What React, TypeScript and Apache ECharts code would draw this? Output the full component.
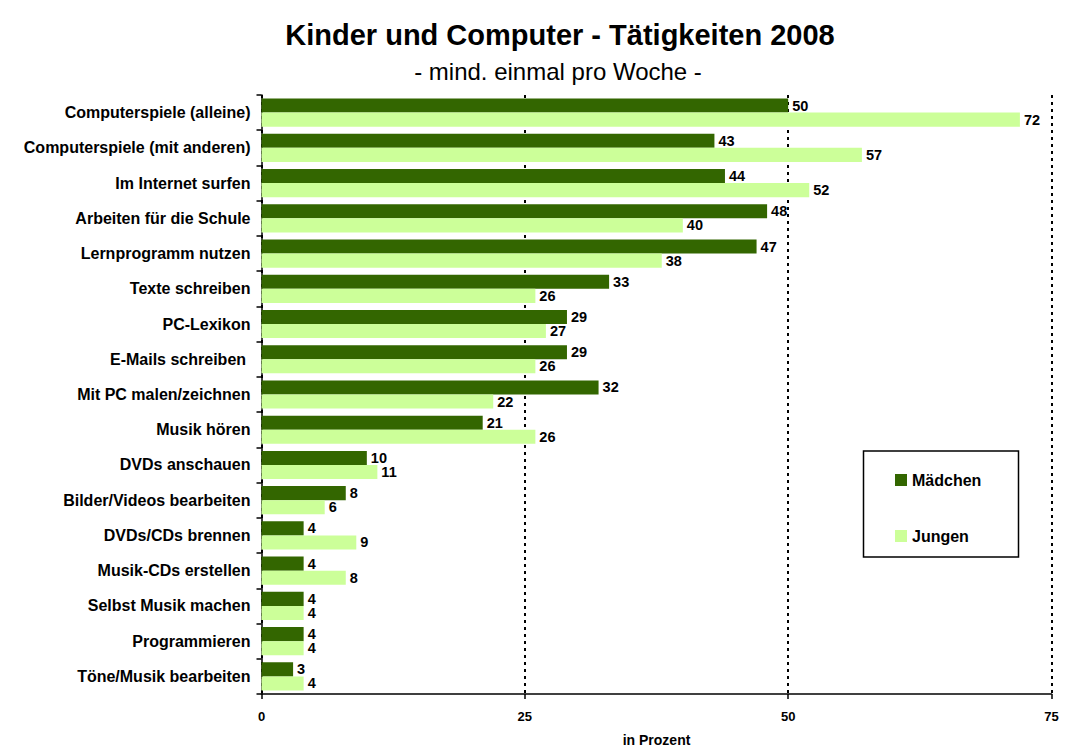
import React, { useEffect, useRef } from "react";
import * as echarts from "echarts";

const categories = [
  "Computerspiele (alleine)",
  "Computerspiele (mit anderen)",
  "Im Internet surfen",
  "Arbeiten für die Schule",
  "Lernprogramm nutzen",
  "Texte schreiben",
  "PC-Lexikon",
  "E-Mails schreiben ",
  "Mit PC malen/zeichnen",
  "Musik hören",
  "DVDs anschauen",
  "Bilder/Videos bearbeiten",
  "DVDs/CDs brennen",
  "Musik-CDs erstellen",
  "Selbst Musik machen",
  "Programmieren",
  "Töne/Musik bearbeiten",
];

const maedchen = [50, 43, 44, 48, 47, 33, 29, 29, 32, 21, 10, 8, 4, 4, 4, 4, 3];
const jungen = [72, 57, 52, 40, 38, 26, 27, 26, 22, 26, 11, 6, 9, 8, 4, 4, 4];

const xTicks = { min: 0, max: 75, interval: 25 };

const FONT = "'Liberation Sans', Arial, sans-serif";

export default function App() {
  const ref = useRef<HTMLDivElement>(null);

  useEffect(() => {
    if (!ref.current) return;
    const chart = echarts.init(ref.current, null, { renderer: "svg" });
    const labelStyle = {
      show: true,
      position: "right" as const,
      distance: 4,
      color: "#000",
      fontWeight: "bold" as const,
      fontSize: 14.5,
      lineHeight: 13,
      fontFamily: FONT,
    };
    chart.setOption({
      animation: false,
      backgroundColor: "#fff",
      textStyle: { fontFamily: FONT },
      title: [
        {
          text: "Kinder und Computer - Tätigkeiten 2008",
          left: 555,
          top: 15,
          textAlign: "center",
          textStyle: { fontSize: 29, fontWeight: "bold", color: "#000", fontFamily: FONT },
        },
        {
          text: "- mind. einmal pro Woche -",
          left: 553,
          top: 54,
          textAlign: "center",
          textStyle: { fontSize: 24, fontWeight: "normal", color: "#000", fontFamily: FONT },
        },
      ],
      legend: {
        orient: "vertical",
        left: 895,
        top: 472,
        padding: 0,
        itemWidth: 12,
        itemHeight: 12,
        itemGap: 40,
        icon: "rect",
        z: 10,
        textStyle: { fontSize: 16, fontWeight: "bold", color: "#000", lineHeight: 12, fontFamily: FONT },
        data: ["Mädchen", "Jungen"],
      },
      graphic: [
        {
          type: "rect",
          z: 1,
          shape: { x: 863.5, y: 451, width: 155, height: 106 },
          style: { fill: "#fff", stroke: "#000", lineWidth: 1.5 },
        },
      ],
      grid: { left: 261.5, right: 15.5, top: 95, bottom: 49, containLabel: false },
      xAxis: {
        type: "value",
        min: xTicks.min,
        max: xTicks.max,
        interval: xTicks.interval,
        name: "in Prozent",
        nameLocation: "middle",
        nameGap: 39,
        nameTextStyle: { fontSize: 14, fontWeight: "bold", color: "#000", fontFamily: FONT },
        axisLine: { show: true, lineStyle: { color: "#000", width: 1.5 } },
        axisTick: { show: true, length: 5, lineStyle: { color: "#000", width: 1.5 } },
        axisLabel: { margin: 16, fontSize: 13, fontWeight: "bold", color: "#000", fontFamily: FONT },
        splitLine: { show: true, lineStyle: { color: "#000", width: 2, type: [3, 4] } },
      },
      yAxis: {
        type: "category",
        inverse: true,
        data: categories,
        axisLine: { show: true, lineStyle: { color: "#000", width: 1.5 } },
        axisTick: { show: true, length: 5, lineStyle: { color: "#000", width: 1.5 } },
        axisLabel: { margin: 11, fontSize: 16, fontWeight: "bold", color: "#000", fontFamily: FONT },
        splitLine: { show: false },
      },
      series: [
        {
          name: "Mädchen",
          type: "bar",
          data: maedchen,
          barGap: "0%",
          barCategoryGap: "20%",
          itemStyle: { color: "#336600" },
          label: labelStyle,
          z: 3,
        },
        {
          name: "Jungen",
          type: "bar",
          data: jungen,
          barGap: "0%",
          barCategoryGap: "20%",
          itemStyle: { color: "#ccff99" },
          label: labelStyle,
          z: 3,
        },
      ],
    });
    return () => chart.dispose();
  }, []);

  return (
    <div
      ref={ref}
      style={{ position: "fixed", left: 0, top: 0, width: 1067, height: 752 }}
    />
  );
}
